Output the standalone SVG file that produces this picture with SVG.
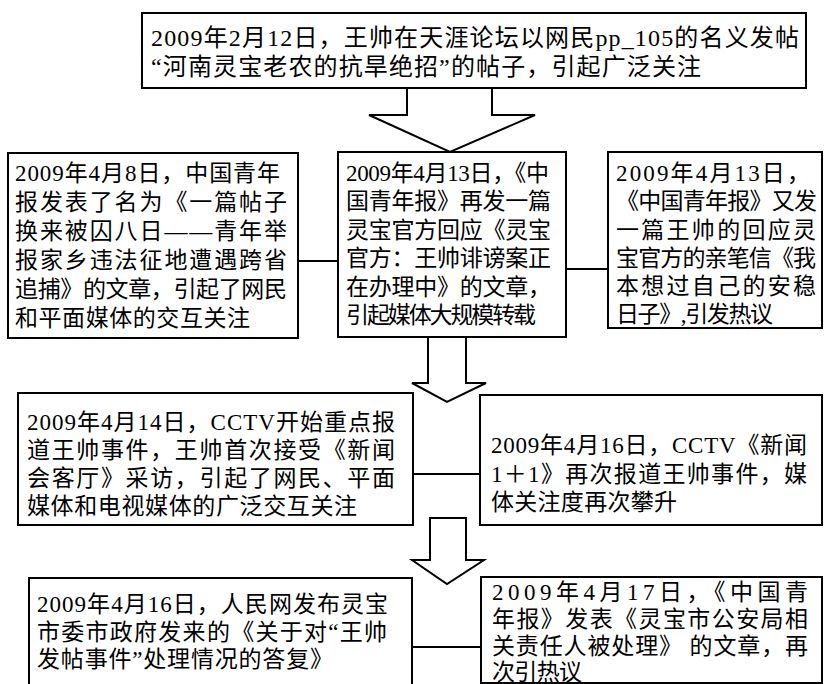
<svg xmlns="http://www.w3.org/2000/svg" width="824" height="684" viewBox="0 0 824 684">
<style>
.box{fill:#fff;stroke:#000;stroke-width:2}
.t{font-family:"Liberation Serif","Noto Sans CJK SC",serif;font-size:23px;fill:#000}
.tt{font-size:24px}
.ln{stroke:#000;stroke-width:2;fill:none}
.ar{fill:#fff;stroke:#000;stroke-width:2;stroke-linejoin:miter}
</style>
<rect x="0" y="0" width="824" height="684" fill="#fff"/>
<g id="connectors">
<line class="ln" x1="298" y1="261" x2="338" y2="261"/>
<line class="ln" x1="566" y1="269" x2="608" y2="269"/>
<line class="ln" x1="413" y1="474" x2="480" y2="474"/>
<line class="ln" x1="412" y1="647" x2="481" y2="647"/>
<polyline class="ar" points="407,88 407,115 369,115 450,152 535,115 492,115 492,88"/>
<polyline class="ar" points="428,337 428,383 412,383 447,402 486,383 466,383 466,337"/>
<polygon class="ar" points="430,518 466,518 466,560 484,560 447,584 412,560 430,560"/>
</g>
<g id="node-top">
<rect class="box" x="142" y="13" width="664" height="75"/>
<text class="t tt" x="151" y="46" textLength="648" lengthAdjust="spacing">2009年2月12日，王帅在天涯论坛以网民pp_105的名义发帖</text>
<text class="t tt" x="151" y="75" textLength="550" lengthAdjust="spacing">“河南灵宝老农的抗旱绝招”的帖子，引起广泛关注</text>
</g>
<g id="node-0408">
<rect class="box" x="8" y="153" width="290" height="185"/>
<text class="t" x="15" y="181" textLength="265" lengthAdjust="spacing">2009年4月8日，中国青年</text>
<text class="t" x="15" y="210" textLength="272" lengthAdjust="spacing">报发表了名为《一篇帖子</text>
<text class="t" x="15" y="239" textLength="272" lengthAdjust="spacing">换来被囚八日——青年举</text>
<text class="t" x="15" y="268" textLength="272" lengthAdjust="spacing">报家乡违法征地遭遇跨省</text>
<text class="t" x="15" y="297" textLength="272" lengthAdjust="spacing">追捕》的文章，引起了网民</text>
<text class="t" x="15" y="326" textLength="235" lengthAdjust="spacing">和平面媒体的交互关注</text>
</g>
<g id="node-0413a">
<rect class="box" x="338" y="152" width="228" height="185"/>
<text class="t" x="346" y="181" textLength="203" lengthAdjust="spacing">2009年4月13日，《中</text>
<text class="t" x="346" y="209" textLength="205" lengthAdjust="spacing">国青年报》再发一篇</text>
<text class="t" x="346" y="238" textLength="205" lengthAdjust="spacing">灵宝官方回应《灵宝</text>
<text class="t" x="346" y="266" textLength="205" lengthAdjust="spacing">官方：王帅诽谤案正</text>
<text class="t" x="346" y="295" textLength="205" lengthAdjust="spacing">在办理中》的文章，</text>
<text class="t" x="346" y="323" textLength="190" lengthAdjust="spacing">引起媒体大规模转载</text>
</g>
<g id="node-0413b">
<rect class="box" x="608" y="152" width="214" height="176"/>
<text class="t" x="616" y="181" textLength="194" lengthAdjust="spacing">2009年4月13日，</text>
<text class="t" x="616" y="209" textLength="201" lengthAdjust="spacing">《中国青年报》又发</text>
<text class="t" x="616" y="238" textLength="200" lengthAdjust="spacing">一篇王帅的回应灵</text>
<text class="t" x="616" y="266" textLength="200" lengthAdjust="spacing">宝官方的亲笔信《我</text>
<text class="t" x="616" y="294" textLength="200" lengthAdjust="spacing">本想过自己的安稳</text>
<text class="t" x="616" y="322" textLength="157" lengthAdjust="spacing">日子》,引发热议</text>
</g>
<g id="node-0414">
<rect class="box" x="18" y="393" width="395" height="132"/>
<text class="t" x="27" y="430" textLength="368" lengthAdjust="spacing">2009年4月14日，CCTV开始重点报</text>
<text class="t" x="27" y="458" textLength="368" lengthAdjust="spacing">道王帅事件，王帅首次接受《新闻</text>
<text class="t" x="27" y="486" textLength="368" lengthAdjust="spacing">会客厅》采访，引起了网民、平面</text>
<text class="t" x="27" y="514" textLength="330" lengthAdjust="spacing">媒体和电视媒体的广泛交互关注</text>
</g>
<g id="node-0416a">
<rect class="box" x="480" y="395" width="342" height="130"/>
<text class="t" x="491" y="453" textLength="316" lengthAdjust="spacing">2009年4月16日，CCTV《新闻</text>
<text class="t" x="491" y="482" textLength="316" lengthAdjust="spacing">1＋1》再次报道王帅事件，媒</text>
<text class="t" x="491" y="510" textLength="186" lengthAdjust="spacing">体关注度再次攀升</text>
</g>
<g id="node-0416b">
<rect class="box" x="29" y="578" width="383" height="120"/>
<text class="t" x="37" y="612" textLength="351" lengthAdjust="spacing">2009年4月16日，人民网发布灵宝</text>
<text class="t" x="37" y="640" textLength="350" lengthAdjust="spacing">市委市政府发来的《关于对“王帅</text>
<text class="t" x="37" y="667" textLength="296" lengthAdjust="spacing">发帖事件”处理情况的答复》</text>
</g>
<g id="node-0417">
<rect class="box" x="481" y="577" width="341" height="106"/>
<text class="t" x="492" y="600" textLength="316" lengthAdjust="spacing">2009年4月17日，《中国青</text>
<text class="t" x="492" y="627" textLength="316" lengthAdjust="spacing">年报》发表《灵宝市公安局相</text>
<text class="t" x="492" y="654" textLength="316" lengthAdjust="spacing">关责任人被处理》 的文章，再</text>
<text class="t" x="492" y="680" textLength="90" lengthAdjust="spacing">次引热议</text>
</g>
</svg>
